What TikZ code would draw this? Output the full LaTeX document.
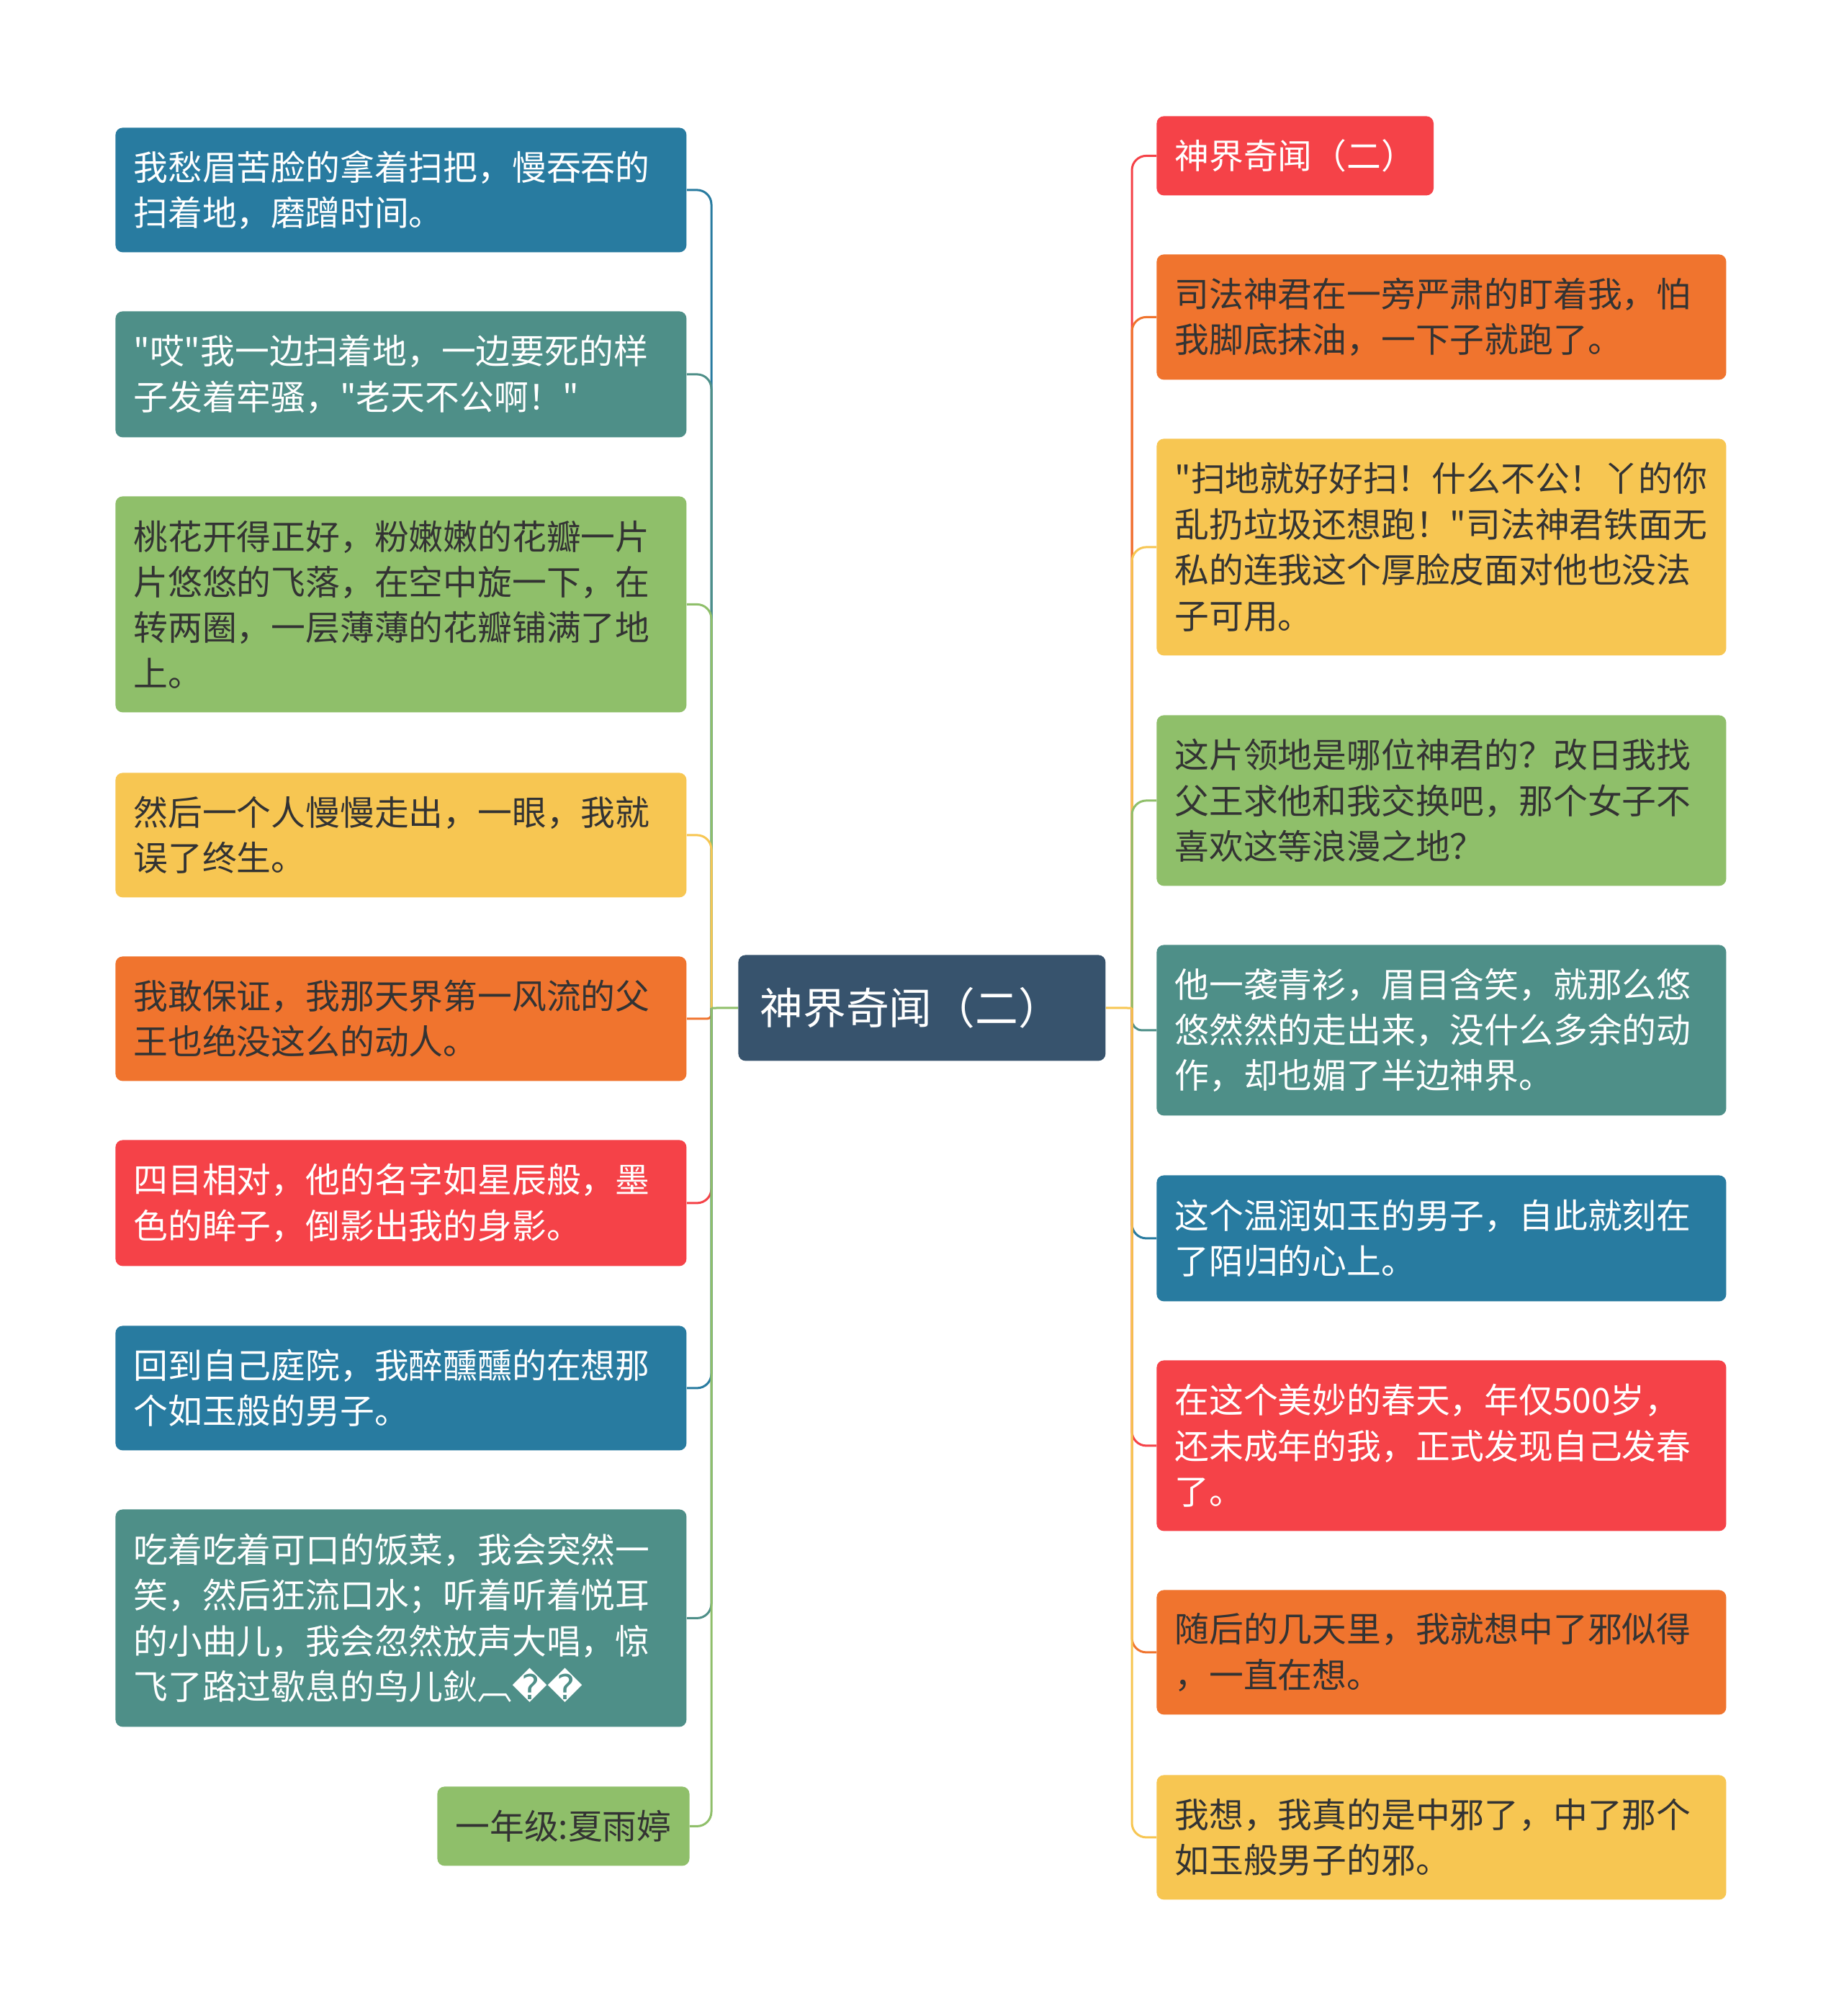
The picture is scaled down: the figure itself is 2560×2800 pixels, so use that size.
\documentclass[tikz,border=0pt]{standalone}
\usepackage{fontspec}
\setmainfont{Noto Sans CJK SC}
\newfontfamily\qf{Noto Sans CJK SC}
\newfontfamily\dejavu{DejaVu Sans}
\newcommand{\dq}{{\qf\char34}}
\usetikzlibrary{backgrounds}
\definecolor{cblue}{HTML}{287BA0}
\definecolor{cteal}{HTML}{4E8F88}
\definecolor{cgreen}{HTML}{8FBF6A}
\definecolor{cyellow}{HTML}{F7C652}
\definecolor{corange}{HTML}{F0742E}
\definecolor{cred}{HTML}{F54248}
\definecolor{croot}{HTML}{37536D}
\definecolor{ctext}{HTML}{333333}
\begin{document}
\begin{tikzpicture}[x=0.5pt,y=-0.5pt,
  mbox/.style={rounded corners=5pt, anchor=north west, inner xsep=12.5pt, inner ysep=0pt, align=left, font=\fontsize{23.9pt}{31.7pt}\selectfont},
  lbox/.style={mbox, text width=371.5pt},
  rbox/.style={mbox, text width=370.5pt},
  light/.style={text=white},
  dark/.style={text=ctext},
  conn/.style={line width=1.5pt}]
\useasboundingbox (0,0) rectangle (2560,2800);

% root
\node[fill=croot, rounded corners=5pt, anchor=north west, inner xsep=15pt, inner ysep=0pt,
  minimum width=255pt, minimum height=73.5pt, text width=225pt, align=left, text=white,
  font=\fontsize{29.9pt}{32pt}\selectfont] (root) at (1025,1326) {神界奇闻（二）};

% left nodes
\node[lbox, fill=cblue, light, minimum height=86.5pt] (L1) at (160,177)
  {我愁眉苦脸的拿着扫把，慢吞吞的\\扫着地，磨蹭时间。};
\node[lbox, fill=cteal, light, minimum height=87.5pt] (L2) at (160,432)
  {\dq 哎\dq 我一边扫着地，一边要死的样\\子发着牢骚，\dq 老天不公啊！\dq};
\node[lbox, fill=cgreen, dark, minimum height=150pt] (L3) at (160,689)
  {桃花开得正好，粉嫩嫩的花瓣一片\\片悠悠的飞落，在空中旋一下，在\\转两圈，一层薄薄的花瓣铺满了地\\上。};
\node[lbox, fill=cyellow, dark, minimum height=86.5pt] (L4) at (160,1073)
  {然后一个人慢慢走出，一眼，我就\\误了终生。};
\node[lbox, fill=corange, dark, minimum height=86.5pt] (L5) at (160,1328)
  {我敢保证，我那天界第一风流的父\\王也绝没这么的动人。};
\node[lbox, fill=cred, light, minimum height=87.5pt] (L6) at (160,1583)
  {四目相对，他的名字如星辰般，墨\\色的眸子，倒影出我的身影。};
\node[lbox, fill=cblue, light, minimum height=86.5pt] (L7) at (160,1841)
  {回到自己庭院，我醉醺醺的在想那\\个如玉般的男子。};
\node[lbox, fill=cteal, light, minimum height=151pt] (L8) at (160,2096)
  {吃着吃着可口的饭菜，我会突然一\\笑，然后狂流口水；听着听着悦耳\\的小曲儿，我会忽然放声大唱，惊\\飞了路过歇息的鸟儿鈥︹{\dejavu ��}};
\node[mbox, fill=cgreen, dark, minimum width=173pt, minimum height=55pt] (L9) at (607,2481)
  {一年级:夏雨婷};

% right nodes
\node[mbox, fill=cred, light, minimum width=190.5pt, minimum height=55pt] (R1) at (1606,161)
  {神界奇闻（二）};
\node[rbox, fill=corange, dark, minimum height=87pt] (R2) at (1606,353)
  {司法神君在一旁严肃的盯着我，怕\\我脚底抹油，一下子就跑了。};
\node[rbox, fill=cyellow, dark, minimum height=150.5pt] (R3) at (1606,609)
  {\dq 扫地就好好扫！什么不公！丫的你\\乱扔垃圾还想跑！\dq 司法神君铁面无\\私的连我这个厚脸皮面对他也没法\\子可用。};
\node[rbox, fill=cgreen, dark, minimum height=118.5pt] (R4) at (1606,993)
  {这片领地是哪位神君的？改日我找\\父王求他和我交换吧，那个女子不\\喜欢这等浪漫之地？};
\node[rbox, fill=cteal, light, minimum height=118.5pt] (R5) at (1606,1312)
  {他一袭青衫，眉目含笑，就那么悠\\悠然然的走出来，没什么多余的动\\作，却也媚了半边神界。};
\node[rbox, fill=cblue, light, minimum height=87.5pt] (R6) at (1606,1632)
  {这个温润如玉的男子，自此就刻在\\了陌归的心上。};
\node[rbox, fill=cred, light, minimum height=118.5pt] (R7) at (1606,1889)
  {在这个美妙的春天，年仅500岁，\\还未成年的我，正式发现自己发春\\了。};
\node[rbox, fill=corange, dark, minimum height=86.5pt] (R8) at (1606,2208)
  {随后的几天里，我就想中了邪似得\\，一直在想。};
\node[rbox, fill=cyellow, dark, minimum height=86.5pt] (R9) at (1606,2465)
  {我想，我真的是中邪了，中了那个\\如玉般男子的邪。};

\coordinate (lj) at (988,1400);
\coordinate (rj) at (1572,1400);

\begin{pgfonlayer}{background}
\fill[white] (0,0) rectangle (2560,2800);
\foreach \n/\c/\r in {L1/cblue/10pt, L2/cteal/10pt, L3/cgreen/10pt, L4/cyellow/10pt,
    L5/corange/3pt, L6/cred/10pt, L7/cblue/10pt, L8/cteal/10pt, L9/cgreen/10pt}
  \draw[conn, draw=\c, rounded corners=\r] (lj) |- (\n.east);
\foreach \n/\c/\r in {R1/cred/10pt, R2/corange/10pt, R3/cyellow/10pt, R4/cgreen/10pt,
    R5/cteal/7pt, R6/cblue/10pt, R7/cred/10pt, R8/corange/10pt, R9/cyellow/10pt}
  \draw[conn, draw=\c, rounded corners=\r] (rj) |- (\n.west);
\draw[conn, draw=cgreen] (root.west) -- (lj);
\draw[conn, draw=cyellow] (root.east) -- (rj);
\end{pgfonlayer}
\end{tikzpicture}
\end{document}
